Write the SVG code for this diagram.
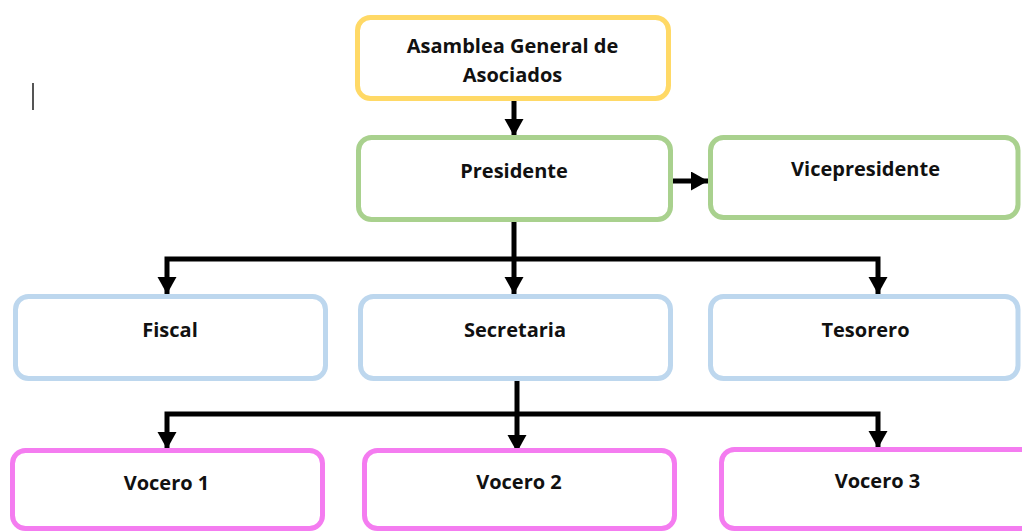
<svg xmlns="http://www.w3.org/2000/svg" width="1022" height="531" viewBox="0 0 1022 531">
<style>
.box{fill:#fff;stroke-width:5}
.yellow{stroke:#FFD966}
.green{stroke:#A9D18E}
.blue{stroke:#BDD7EE}
.pink{stroke:#F47CF0}
.lbl{font-family:"Open Sans","DejaVu Sans",sans-serif;font-weight:700;font-size:20px;fill:#111;text-anchor:middle}
.con{fill:none;stroke:#000;stroke-width:5;stroke-linejoin:miter}
</style>
<defs>
<marker id="ah" markerUnits="userSpaceOnUse" markerWidth="18" markerHeight="20" refX="17" refY="9.5" orient="auto">
<path d="M0,0 L17,9.5 L0,19 z" fill="#000"/>
</marker>
</defs>
<rect width="1022" height="531" fill="#fff"/>
<line x1="33" y1="83" x2="33" y2="110" stroke="#555" stroke-width="2"/>
<g id="connectors">
<path class="con" d="M514 101 V136" marker-end="url(#ah)"/>
<path class="con" d="M671 181 H708" marker-end="url(#ah)"/>
<path class="con" d="M514 222 V294" marker-end="url(#ah)"/>
<path class="con" d="M514 259 H167 V294" marker-end="url(#ah)"/>
<path class="con" d="M514 259 H878 V294" marker-end="url(#ah)"/>
<path class="con" d="M517 381 V452" marker-end="url(#ah)"/>
<path class="con" d="M517 414 H167 V449" marker-end="url(#ah)"/>
<path class="con" d="M517 414 H878 V448" marker-end="url(#ah)"/>
</g>
<g id="asamblea">
<rect class="box yellow" x="357.5" y="17.5" width="311" height="81" rx="13"/>
<text class="lbl" x="512.5" y="53">Asamblea General de</text>
<text class="lbl" x="512.5" y="82">Asociados</text>
</g>
<g id="presidente">
<rect class="box green" x="358.5" y="137.5" width="312" height="82" rx="13"/>
<text class="lbl" x="514" y="178">Presidente</text>
</g>
<g id="vicepresidente">
<rect class="box green" x="710.5" y="137.5" width="307.5" height="80" rx="13"/>
<text class="lbl" x="865.5" y="176">Vicepresidente</text>
</g>
<g id="fiscal">
<rect class="box blue" x="15.5" y="296.5" width="310" height="82" rx="13"/>
<text class="lbl" x="170" y="337">Fiscal</text>
</g>
<g id="secretaria">
<rect class="box blue" x="360.5" y="296.5" width="310" height="82" rx="13"/>
<text class="lbl" x="515" y="337">Secretaria</text>
</g>
<g id="tesorero">
<rect class="box blue" x="710.5" y="296.5" width="307.5" height="82" rx="13"/>
<text class="lbl" x="865.5" y="337">Tesorero</text>
</g>
<g id="vocero1">
<rect class="box pink" x="12.5" y="450.5" width="310" height="78" rx="13"/>
<text class="lbl" x="166.5" y="490">Vocero 1</text>
</g>
<g id="vocero2">
<rect class="box pink" x="364.5" y="450.5" width="310" height="78" rx="13"/>
<text class="lbl" x="519" y="489">Vocero 2</text>
</g>
<g id="vocero3">
<rect class="box pink" x="721.5" y="449.5" width="320" height="79" rx="13"/>
<text class="lbl" x="877.5" y="488">Vocero 3</text>
</g>
</svg>
